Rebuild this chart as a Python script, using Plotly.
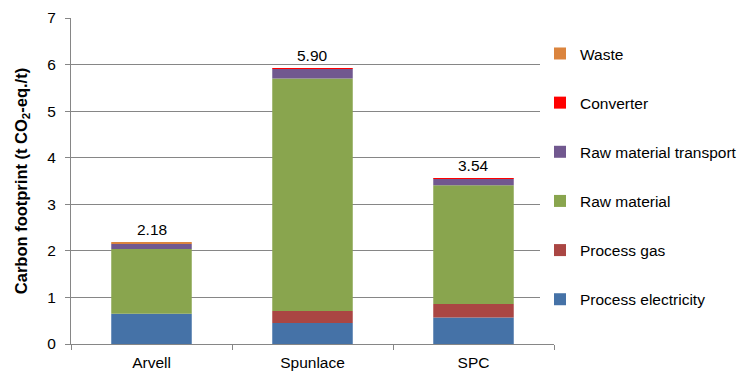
import plotly.graph_objects as go

categories = ["Arvell", "Spunlace", "SPC"]
series_names = ["Process electricity", "Process gas", "Raw material",
                "Raw material transport", "Converter", "Waste"]
process_electricity = [0.65, 0.45, 0.57]
process_gas = [0.00, 0.26, 0.29]
raw_material = [1.39, 4.99, 2.55]
raw_material_transport = [0.11, 0.21, 0.14]
converter = [0.00, 0.01, 0.01]
waste = [0.03, -0.02, -0.02]
y_ticks = [0, 1, 2, 3, 4, 5, 6, 7]

colors = ["#4572A7", "#AA4643", "#89A54E", "#71588F", "#FF0000", "#DB843D"]
series = [process_electricity, process_gas, raw_material,
          raw_material_transport, converter, waste]

fig = go.Figure()
n = len(series_names)
for i, (name, vals, col) in enumerate(zip(series_names, series, colors)):
    fig.add_trace(go.Bar(x=categories, y=vals, name=name, marker_color=col,
                         marker_line_width=0, legendgroup=name,
                         legendrank=n - i))

font = "Liberation Sans, Arial, sans-serif"
for j, cat in enumerate(categories):
    total = sum(s[j] for s in series)
    top = sum(s[j] for s in series if s[j] > 0)
    fig.add_annotation(x=cat, y=top, text=f"{total:.2f}", showarrow=False,
                       yanchor="bottom", yshift=2,
                       font=dict(family=font, size=15.5, color="#000000"))

fig.update_layout(
    width=748, height=370,
    margin=dict(l=63, r=202, t=10, b=34),
    paper_bgcolor="white", plot_bgcolor="white",
    barmode="relative", bargap=0.5,
    font=dict(family=font, size=15.5, color="#000000"),
    legend=dict(x=0.971, xanchor="left", y=0.942, yanchor="top",
                traceorder="grouped", tracegroupgap=26,
                font=dict(size=15.5), itemwidth=30),
    showlegend=True,
)
fig.update_yaxes(range=[0, 7], tickvals=y_ticks, showgrid=True,
                 gridcolor="#868686", gridwidth=1, showline=True,
                 linecolor="#868686", ticks="outside", ticklen=5,
                 tickcolor="#868686", zeroline=False, automargin=False,
                 ticklabelstandoff=6,
                 title=dict(text="<b>Carbon footprint (t CO<sub>2</sub>-eq./t)</b>",
                            font=dict(size=16.5), standoff=15))
fig.update_xaxes(showline=True, linecolor="#868686", ticks="outside",
                 tickson="boundaries", ticklen=5, tickcolor="#868686",
                 showgrid=False, automargin=False, ticklabelstandoff=4)

fig.write_html("out.html")
